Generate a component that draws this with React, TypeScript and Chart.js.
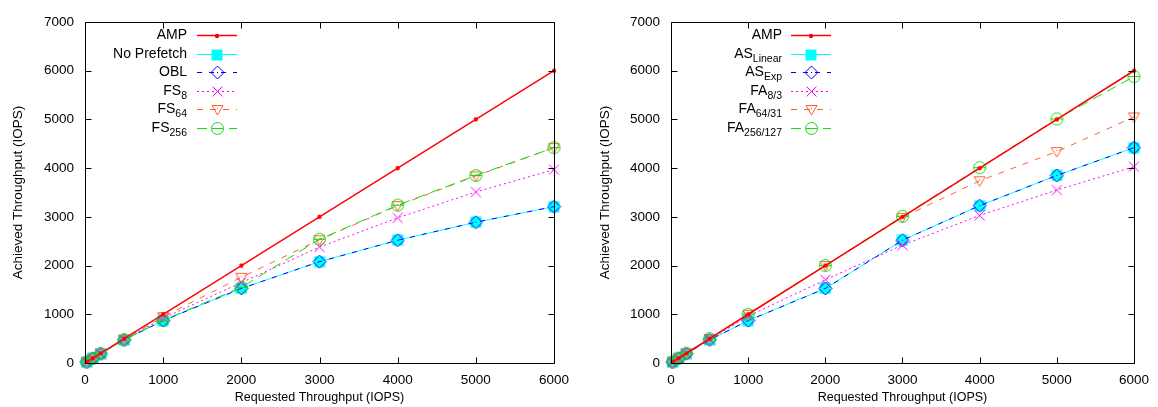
import React, { useEffect, useRef } from 'react';
import { Chart, registerables } from 'chart.js';
Chart.register(...registerables);

// ---------- data ----------
const requested = [20, 100, 200, 500, 1000, 2000, 3000, 4000, 5000, 6000];
const xTicks = [0, 1000, 2000, 3000, 4000, 5000, 6000];
const yTicks = [0, 1000, 2000, 3000, 4000, 5000, 6000, 7000];

// left chart
const ampL = [20, 100, 200, 500, 1000, 2000, 3000, 4000, 5000, 6000];
const noPrefetch = [20, 95, 190, 475, 870, 1530, 2080, 2520, 2890, 3210];
const obl = [20, 95, 190, 475, 870, 1530, 2080, 2520, 2890, 3210];
const fs8 = [20, 95, 195, 480, 920, 1650, 2380, 2980, 3510, 3970];
const fs64 = [20, 95, 195, 480, 950, 1760, 2530, 3230, 3840, 4420];
const fs256 = [20, 95, 190, 475, 880, 1550, 2540, 3240, 3850, 4420];

// right chart
const ampR = [20, 100, 200, 500, 1000, 2000, 3000, 4000, 5000, 6000];
const asLinear = [20, 95, 190, 475, 870, 1530, 2520, 3230, 3850, 4420];
const asExp = [20, 95, 190, 475, 870, 1530, 2520, 3230, 3850, 4420];
const fa8 = [20, 95, 195, 480, 960, 1710, 2420, 3030, 3550, 4030];
const fa64 = [20, 100, 200, 500, 1000, 2000, 2990, 3740, 4340, 5050];
const fa256 = [20, 100, 200, 500, 1000, 2000, 3010, 4010, 5010, 5880];

const xTitle = 'Requested Throughput (IOPS)';
const yTitle = 'Achieved Throughput (IOPS)';

const FONT = "'Liberation Sans', Arial, Helvetica, sans-serif";

type Kind = 'dot' | 'square' | 'diamond' | 'x' | 'tri' | 'circ';

function makeMarker(kind: Kind, color: string): HTMLCanvasElement {
  const c = document.createElement('canvas');
  const sizes: Record<Kind, number> = { dot: 6, square: 12, diamond: 15, x: 13, tri: 13, circ: 15 };
  const s = sizes[kind];
  c.width = s;
  c.height = s;
  const ctx = c.getContext('2d')!;
  ctx.strokeStyle = color;
  ctx.fillStyle = color;
  ctx.lineWidth = 1;
  const m = s / 2;
  ctx.beginPath();
  if (kind === 'dot') {
    ctx.arc(m, m, 2.2, 0, Math.PI * 2);
    ctx.fill();
  } else if (kind === 'square') {
    ctx.fillRect(0.5, 0.5, s - 1, s - 1);
  } else if (kind === 'diamond') {
    ctx.moveTo(m, 1);
    ctx.lineTo(s - 1, m);
    ctx.lineTo(m, s - 1);
    ctx.lineTo(1, m);
    ctx.closePath();
    ctx.stroke();
    ctx.fillRect(m - 0.5, m - 0.5, 1, 1);
  } else if (kind === 'x') {
    ctx.moveTo(1.5, 1.5);
    ctx.lineTo(s - 1.5, s - 1.5);
    ctx.moveTo(s - 1.5, 1.5);
    ctx.lineTo(1.5, s - 1.5);
    ctx.stroke();
  } else if (kind === 'tri') {
    ctx.moveTo(1, 2.5);
    ctx.lineTo(s - 1, 2.5);
    ctx.lineTo(m, s - 1);
    ctx.closePath();
    ctx.stroke();
    ctx.fillRect(m - 0.5, m - 1.5, 1, 1);
  } else if (kind === 'circ') {
    ctx.arc(m, m, 6, 0, Math.PI * 2);
    ctx.stroke();
    ctx.beginPath();
    ctx.moveTo(1.5, m);
    ctx.lineTo(s - 1.5, m);
    ctx.stroke();
  }
  return c;
}

interface SeriesDef {
  main: string;
  sub: string;
  values: number[];
  color: string;
  dash: number[];
  width: number;
  kind: Kind;
}

interface PanelDef {
  series: SeriesDef[];
  yAxisWidth: number;
  rightPad: number;
  yTitlePad: number;
  legendTextRight: number;
  legendLineX1: number;
  legendLineX2: number;
}

const leftPanel: PanelDef = {
  series: [
    { main: 'AMP', sub: '', values: ampL, color: '#ff0000', dash: [], width: 1.4, kind: 'dot' },
    { main: 'No Prefetch', sub: '', values: noPrefetch, color: '#00ffff', dash: [], width: 1, kind: 'square' },
    { main: 'OBL', sub: '', values: obl, color: '#0000ff', dash: [5, 7], width: 1, kind: 'diamond' },
    { main: 'FS', sub: '8', values: fs8, color: '#ff00ff', dash: [2, 3], width: 1, kind: 'x' },
    { main: 'FS', sub: '64', values: fs64, color: '#ff6030', dash: [6, 7], width: 1, kind: 'tri' },
    { main: 'FS', sub: '256', values: fs256, color: '#11dd11', dash: [10, 6], width: 1, kind: 'circ' },
  ],
  yAxisWidth: 85,
  rightPad: 25,
  yTitlePad: 10,
  legendTextRight: 187,
  legendLineX1: 197,
  legendLineX2: 237,
};

const rightPanel: PanelDef = {
  series: [
    { main: 'AMP', sub: '', values: ampR, color: '#ff0000', dash: [], width: 1.6, kind: 'dot' },
    { main: 'AS', sub: 'Linear', values: asLinear, color: '#00ffff', dash: [], width: 1, kind: 'square' },
    { main: 'AS', sub: 'Exp', values: asExp, color: '#0000ff', dash: [5, 7], width: 1, kind: 'diamond' },
    { main: 'FA', sub: '8/3', values: fa8, color: '#ff00ff', dash: [2, 3], width: 1, kind: 'x' },
    { main: 'FA', sub: '64/31', values: fa64, color: '#ff6030', dash: [6, 7], width: 1, kind: 'tri' },
    { main: 'FA', sub: '256/127', values: fa256, color: '#11dd11', dash: [10, 6], width: 1, kind: 'circ' },
  ],
  yAxisWidth: 92,
  rightPad: 18,
  yTitlePad: 18,
  legendTextRight: 203,
  legendLineX1: 212,
  legendLineX2: 252,
};

const legendRows = [35, 54, 72, 91, 109, 128];

function Panel({ def }: { def: PanelDef }) {
  const ref = useRef<HTMLCanvasElement | null>(null);
  useEffect(() => {
    const canvas = ref.current;
    if (!canvas) return;
    const markers = def.series.map((s) => makeMarker(s.kind, s.color));

    const framePlugin = {
      id: 'frameTicks',
      afterDraw(chart: any) {
        const { ctx, chartArea } = chart;
        const xs = chart.scales.x;
        const ys = chart.scales.y;
        const L = Math.round(chartArea.left) + 0.5;
        const R = Math.round(chartArea.right) + 0.5;
        const T = Math.round(chartArea.top) + 0.5;
        const B = Math.round(chartArea.bottom) + 0.5;
        ctx.save();
        ctx.strokeStyle = '#000';
        ctx.lineWidth = 1;
        ctx.setLineDash([]);
        ctx.beginPath();
        ctx.rect(L, T, R - L, B - T);
        const tl = 6;
        xTicks.forEach((v) => {
          const px = Math.round(xs.getPixelForValue(v)) + 0.5;
          ctx.moveTo(px, B);
          ctx.lineTo(px, B - tl);
          ctx.moveTo(px, T);
          ctx.lineTo(px, T + tl);
        });
        yTicks.forEach((v) => {
          const py = Math.round(ys.getPixelForValue(v)) + 0.5;
          ctx.moveTo(L, py);
          ctx.lineTo(L + tl, py);
          ctx.moveTo(R, py);
          ctx.lineTo(R - tl, py);
        });
        ctx.stroke();
        ctx.restore();

        // legend
        ctx.save();
        def.series.forEach((s, i) => {
          const y = legendRows[i];
          ctx.fillStyle = '#000';
          ctx.textBaseline = 'middle';
          const mainFont = `14px ${FONT}`;
          const subFont = `10.5px ${FONT}`;
          ctx.font = subFont;
          const subW = s.sub ? ctx.measureText(s.sub).width : 0;
          ctx.font = mainFont;
          const mainW = ctx.measureText(s.main).width;
          const x0 = def.legendTextRight - subW - mainW;
          ctx.textAlign = 'left';
          ctx.fillText(s.main, x0, y);
          if (s.sub) {
            ctx.font = subFont;
            ctx.fillText(s.sub, x0 + mainW, y + 5);
          }
          ctx.strokeStyle = s.color;
          ctx.lineWidth = s.width;
          ctx.setLineDash(s.dash);
          ctx.beginPath();
          ctx.moveTo(def.legendLineX1, y + 0.5);
          ctx.lineTo(def.legendLineX2, y + 0.5);
          ctx.stroke();
          ctx.setLineDash([]);
          const mk = markers[i];
          const cx = (def.legendLineX1 + def.legendLineX2) / 2;
          ctx.drawImage(mk, Math.round(cx - mk.width / 2), Math.round(y + 0.5 - mk.height / 2));
        });
        ctx.restore();
      },
    };

    const chart = new Chart(canvas, {
      type: 'line',
      data: {
        datasets: def.series.map((s, i) => ({
          label: s.main + s.sub,
          data: requested.map((x, k) => ({ x, y: s.values[k] })),
          borderColor: s.color,
          backgroundColor: 'transparent',
          borderWidth: s.width,
          borderDash: s.dash,
          pointStyle: markers[i],
          pointRadius: 5,
          pointHoverRadius: 5,
          fill: false,
          tension: 0,
          clip: false,
          // AMP drawn on top, others in series order (later on top)
          order: i === 0 ? 0 : 10 - i,
        })),
      },
      options: {
        responsive: false,
        animation: false,
        devicePixelRatio: 1,
        layout: { padding: { top: 22, right: def.rightPad, left: 0, bottom: 0 } },
        plugins: { legend: { display: false }, tooltip: { enabled: false } },
        scales: {
          x: {
            type: 'linear',
            min: 0,
            max: 6000,
            ticks: {
              stepSize: 1000,
              padding: 9,
              color: '#000',
              font: { family: FONT, size: 13.5 },
              maxRotation: 0,
              callback: (v: any) => String(v),
            },
            grid: { display: false, drawTicks: false },
            border: { display: false },
            title: { display: true, text: xTitle, color: '#000', font: { family: FONT, size: 12.5 }, padding: { top: 0, bottom: 2 } },
            afterFit: (s: any) => {
              s.height = 44;
            },
          },
          y: {
            type: 'linear',
            min: 0,
            max: 7000,
            ticks: {
              stepSize: 1000,
              padding: 11,
              color: '#000',
              font: { family: FONT, size: 13.5 },
              callback: (v: any) => String(v),
            },
            grid: { display: false, drawTicks: false },
            border: { display: false },
            title: { display: true, text: yTitle, color: '#000', font: { family: FONT, size: 13.5 }, padding: { top: def.yTitlePad, bottom: 0 } },
            afterFit: (s: any) => {
              s.width = def.yAxisWidth;
            },
          },
        },
      } as any,
      plugins: [framePlugin],
    });
    return () => chart.destroy();
  }, [def]);
  return <canvas ref={ref} width={579} height={407} style={{ display: 'block', width: 579, height: 407 }} />;
}

export default function App() {
  useEffect(() => {
    document.body.style.margin = '0';
    document.body.style.background = '#fff';
  }, []);
  return (
    <div style={{ position: 'relative', width: 1158, height: 407, display: 'flex', background: '#fff' }}>
      <Panel def={leftPanel} />
      <Panel def={rightPanel} />
    </div>
  );
}
